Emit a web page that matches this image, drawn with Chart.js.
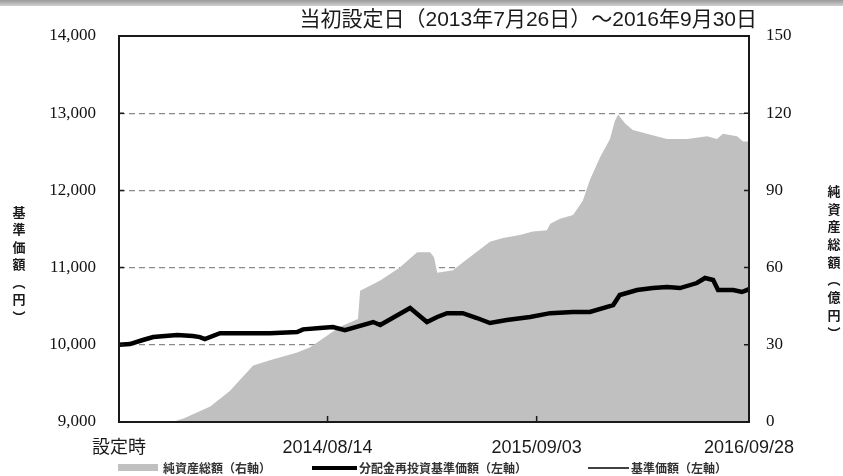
<!DOCTYPE html>
<html lang="ja">
<head>
<meta charset="utf-8">
<script src="https://cdn.jsdelivr.net/npm/chart.js@4/dist/chart.umd.min.js"></script>
<style>
  html, body { margin: 0; padding: 0; background: #fff; }
  #wrap { position: relative; width: 843px; height: 476px; }
  #topBar { position: absolute; left: 0; top: 0; width: 843px; height: 6px; background: linear-gradient(#9a9a9a, #d0d0d0); }
</style>
</head>
<body>
<div id="wrap">
  <canvas id="navChart"></canvas>
  <div id="topBar"></div>
</div>
<script>
// days since inception (2013/07/26)
const areaDays = [0, 98, 120, 168, 204, 247, 278, 328, 352, 407, 440, 444, 481, 517, 549, 573, 580, 586, 615, 633, 683, 707, 738, 762, 788, 794, 812, 836, 854, 867, 886, 904, 913, 919, 932, 946, 972, 1009, 1046, 1083, 1101, 1112, 1138, 1149, 1160];
// 純資産総額 (億円)
const areaValues = [0, 0, 1.5, 6, 12, 22, 24, 27, 29, 37, 40, 51, 55, 60, 66, 66, 64, 58, 59, 62, 70, 71.5, 72.7, 74, 74.5, 77, 79, 80.4, 86, 94, 103, 110, 117, 119.5, 116, 113.5, 112, 110, 110, 111, 110, 112, 111, 109, 109];

const lineDays = [0, 20, 44, 63, 107, 136, 149, 158, 186, 228, 278, 328, 339, 370, 394, 416, 468, 481, 536, 567, 586, 604, 633, 659, 683, 714, 757, 794, 836, 867, 910, 922, 954, 983, 1009, 1033, 1064, 1079, 1094, 1103, 1131, 1147, 1160];
// 分配金再投資基準価額 (円)
const reinvestValues = [10000, 10010, 10062, 10100, 10127, 10114, 10100, 10075, 10150, 10150, 10150, 10165, 10200, 10218, 10230, 10190, 10295, 10256, 10477, 10295, 10360, 10410, 10410, 10347, 10282, 10321, 10360, 10410, 10425, 10425, 10515, 10645, 10710, 10735, 10750, 10735, 10800, 10865, 10840, 10710, 10710, 10684, 10720];
// 基準価額 (円) - no distributions paid, same as reinvested
const navValues = reinvestValues.slice();

const xTickDays = [0, 384, 769, 1160];
const xTickLabels = ["設定時", "2014/08/14", "2015/09/03", "2016/09/28"];

const titleText = "当初設定日（2013年7月26日）～2016年9月30日";
const leftTitle = ["基", "準", "価", "額", "︵", "円", "︶"];
const rightTitle = ["純", "資", "産", "総", "額", "︵", "億", "円", "︶"];
const legendLabels = ["純資産総額（右軸）", "分配金再投資基準価額（左軸）", "基準価額（左軸）"];

const JP = "'Noto Sans CJK JP', sans-serif";
const pairs = (xs, ys) => xs.map((x, i) => ({ x, y: ys[i] }));

const decor = {
  id: "decor",
  afterDatasetsDraw(chart) {
    const { ctx, chartArea: a, scales } = chart;
    ctx.save();
    ctx.strokeStyle = "#1a1a1a";
    ctx.lineWidth = 2;
    ctx.strokeRect(a.left, a.top, a.right - a.left, a.bottom - a.top);

    // inward tick marks
    ctx.lineWidth = 1.5;
    ctx.beginPath();
    scales.y.ticks.forEach((t) => {
      const py = scales.y.getPixelForValue(t.value);
      ctx.moveTo(a.left, py);
      ctx.lineTo(a.left + 5, py);
    });
    scales.y2.ticks.forEach((t) => {
      const py = scales.y2.getPixelForValue(t.value);
      ctx.moveTo(a.right, py);
      ctx.lineTo(a.right - 5, py);
    });
    scales.x.ticks.forEach((t) => {
      const px = scales.x.getPixelForValue(t.value);
      ctx.moveTo(px, a.bottom);
      ctx.lineTo(px, a.bottom - 6);
    });
    ctx.stroke();
    ctx.restore();
  },
  afterDraw(chart) {
    const { ctx, chartArea: a } = chart;
    ctx.save();
    ctx.fillStyle = "#1a1a1a";
    ctx.textBaseline = "middle";

    ctx.font = "21px 'Liberation Sans', " + JP;
    ctx.textAlign = "right";
    ctx.fillText(titleText, a.right + 8, 20);

    ctx.font = "bold 13px " + JP;
    ctx.textAlign = "center";
    leftTitle.forEach((c, i) => ctx.fillText(c, 19, 212 + i * 17.5));
    rightTitle.forEach((c, i) => ctx.fillText(c, 834, 191 + i * 17.7));

    // legend
    const ly = 468;
    ctx.textAlign = "left";
    ctx.fillStyle = "#c0c0c0";
    ctx.fillRect(118, ly - 4, 40, 7);
    ctx.strokeStyle = "#000";
    ctx.lineWidth = 4;
    ctx.beginPath();
    ctx.moveTo(312, ly);
    ctx.lineTo(357, ly);
    ctx.stroke();
    ctx.lineWidth = 1.5;
    ctx.beginPath();
    ctx.moveTo(588, ly);
    ctx.lineTo(629, ly);
    ctx.stroke();
    ctx.fillStyle = "#333";
    ctx.font = "bold 12px " + JP;
    ctx.fillText(legendLabels[0], 163, ly);
    ctx.fillText(legendLabels[1], 359, ly);
    ctx.fillText(legendLabels[2], 631, ly);
    ctx.restore();
  },
};

new Chart(document.getElementById("navChart"), {
  type: "line",
  data: {
    datasets: [
      {
        label: legendLabels[1],
        data: pairs(lineDays, reinvestValues),
        yAxisID: "y",
        borderColor: "#000",
        borderWidth: 4.5,
        pointRadius: 0,
        order: 1,
      },
      {
        label: legendLabels[2],
        data: pairs(lineDays, navValues),
        yAxisID: "y",
        borderColor: "#000",
        borderWidth: 1.5,
        pointRadius: 0,
        order: 2,
      },
      {
        label: legendLabels[0],
        data: pairs(areaDays, areaValues),
        yAxisID: "y2",
        borderWidth: 0,
        borderColor: "rgba(0,0,0,0)",
        backgroundColor: "#c0c0c0",
        fill: "origin",
        pointRadius: 0,
        order: 3,
      },
    ],
  },
  options: {
    responsive: true,
    maintainAspectRatio: false,
    animation: false,
    layout: { padding: { top: 36, left: 0, right: 0, bottom: 0 } },
    plugins: { legend: { display: false }, tooltip: { enabled: false }, title: { display: false } },
    scales: {
      x: {
        type: "linear",
        min: 0,
        max: 1160,
        grid: { display: false },
        border: { display: false },
        afterBuildTicks: (scale) => {
          scale.ticks = xTickDays.map((v) => ({ value: v }));
        },
        afterFit: (scale) => {
          scale.height = 54;
        },
        ticks: {
          autoSkip: false,
          maxRotation: 0,
          padding: 7,
          color: "#1a1a1a",
          font: { family: "'Liberation Sans', 'Noto Sans CJK JP', sans-serif", size: 18 },
          callback: (value, index) => xTickLabels[index],
        },
      },
      y: {
        position: "left",
        min: 9000,
        max: 14000,
        grid: {
          color: (c) => (c.tick && (c.tick.value === 9000 || c.tick.value === 14000) ? "rgba(0,0,0,0)" : "#8a8a8a"),
          lineWidth: 1.3,
          drawTicks: false,
        },
        border: { display: false, dash: [6, 4] },
        afterFit: (scale) => {
          scale.width = 119;
        },
        ticks: {
          stepSize: 1000,
          padding: 23,
          color: "#111",
          font: { family: "'Liberation Serif', serif", size: 17 },
          callback: (v) => v.toLocaleString("en-US"),
        },
      },
      y2: {
        position: "right",
        min: 0,
        max: 150,
        grid: { display: false },
        border: { display: false },
        afterFit: (scale) => {
          scale.width = 94;
        },
        ticks: {
          stepSize: 30,
          padding: 9,
          color: "#111",
          font: { family: "'Liberation Serif', serif", size: 17 },
        },
      },
    },
  },
  plugins: [decor],
});
</script>
</body>
</html>
